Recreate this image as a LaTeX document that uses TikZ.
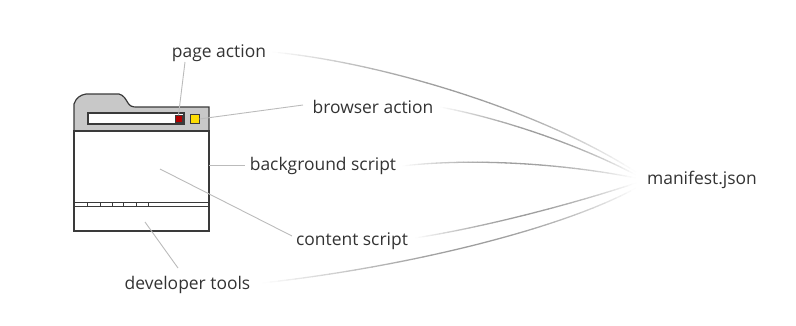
\documentclass[tikz,border=0pt]{standalone}
\usepackage{fontspec}
\setmainfont{Open Sans}
\definecolor{txt}{HTML}{333333}
\definecolor{lead}{HTML}{BBBBBB}
\definecolor{frame}{HTML}{3A3A3A}
\definecolor{hdr}{HTML}{C8C8C8}
\tikzset{
  lbl/.style={font=\fontsize{17.5}{20}\selectfont, text=txt, inner sep=2pt},
  leader/.style={draw=lead, line width=0.9pt},
  win/.style={draw=frame, line width=1.2pt},
}
\newcommand\myswoop[8]{%
  \foreach \i in {0,...,49} {%
    \pgfmathsetmacro\ta{\i/50}%
    \pgfmathsetmacro\tb{(\i+1)/50}%
    \pgfmathsetmacro\xa{(1-\ta)^3*#1+3*(1-\ta)^2*\ta*#3+3*(1-\ta)*\ta^2*#5+\ta^3*#7}%
    \pgfmathsetmacro\ya{(1-\ta)^3*#2+3*(1-\ta)^2*\ta*#4+3*(1-\ta)*\ta^2*#6+\ta^3*#8}%
    \pgfmathsetmacro\xb{(1-\tb)^3*#1+3*(1-\tb)^2*\tb*#3+3*(1-\tb)*\tb^2*#5+\tb^3*#7}%
    \pgfmathsetmacro\yb{(1-\tb)^3*#2+3*(1-\tb)^2*\tb*#4+3*(1-\tb)*\tb^2*#6+\tb^3*#8}%
    \pgfmathsetmacro\op{38*(sin(180*(\ta+\tb)/2))^1.1}%
    \draw[draw=black!\op, line width=1.3pt, line cap=round] (\xa,\ya) -- (\xb,\yb);
  }%
}
\begin{document}
\begin{tikzpicture}[x=1bp,y=-1bp]
\useasboundingbox (0,0) rectangle (796,325);
% browser window
\fill[white] (74,131) rectangle (209,231);
\draw[win, fill=hdr] (74,131) -- (74,104) .. controls (76,98) and (80,95) .. (86,94) -- (119,94) .. controls (124,95) and (126,100) .. (128,103) .. controls (130,106) and (132,107) .. (136,107) -- (209,107) -- (209,131) -- cycle;
\draw[win] (74,131) rectangle (209,231);
\draw[win, fill=white] (88,113) rectangle (184,124);
\node[draw=frame, fill=red!70!black, line width=0.8pt, minimum size=7bp, inner sep=0pt] (pa) at (178.5,119) {};
\node[draw=frame, fill=yellow!80!orange, line width=0.8pt, minimum size=9bp, inner sep=0pt] (ba) at (194.5,119) {};
\draw[win, line width=1pt] (74,202) -- (209,202) (74,206.5) -- (209,206.5);
\foreach \x in {87,100,112,123,136,148} \draw[frame, line width=1pt] (\x,202) -- (\x,206.5);
\coordinate (wr) at (209,165);
\coordinate (cs0) at (160,169);
\coordinate (dt0) at (145,222);
% labels
\node[lbl] (lpa) at (219,53) {page action};
\node[lbl] (lba) at (373,107) {browser action};
\node[lbl] (lbg) at (323,166) {background script};
\node[lbl] (lcs) at (352,241) {content script};
\node[lbl] (ldt) at (187.5,285) {developer tools};
\node[lbl] (mf) at (702,180) {manifest.json};
\coordinate (pae) at (185,62);
\coordinate (bae) at (303,105);
\coordinate (bge) at (245,165);
\coordinate (cse) at (292,236);
\coordinate (dte) at (178,268);
% leaders
\draw[leader] (pa.north) -- (pae);
\draw[leader] (ba.east) -- (bae);
\draw[leader] (wr) -- (bge);
\draw[leader] (cs0) -- (cse);
\draw[leader] (dt0) -- (dte);
% swoops to manifest
\myswoop{272}{52}{380}{62}{540}{110}{636}{172}
\myswoop{440}{107}{500}{118}{580}{145}{636}{175}
\myswoop{402}{166}{470}{158}{560}{163}{636}{178}
\myswoop{415}{238}{480}{228}{570}{205}{636}{183}
\myswoop{262}{283}{400}{268}{560}{230}{636}{188}
\end{tikzpicture}
\end{document}
